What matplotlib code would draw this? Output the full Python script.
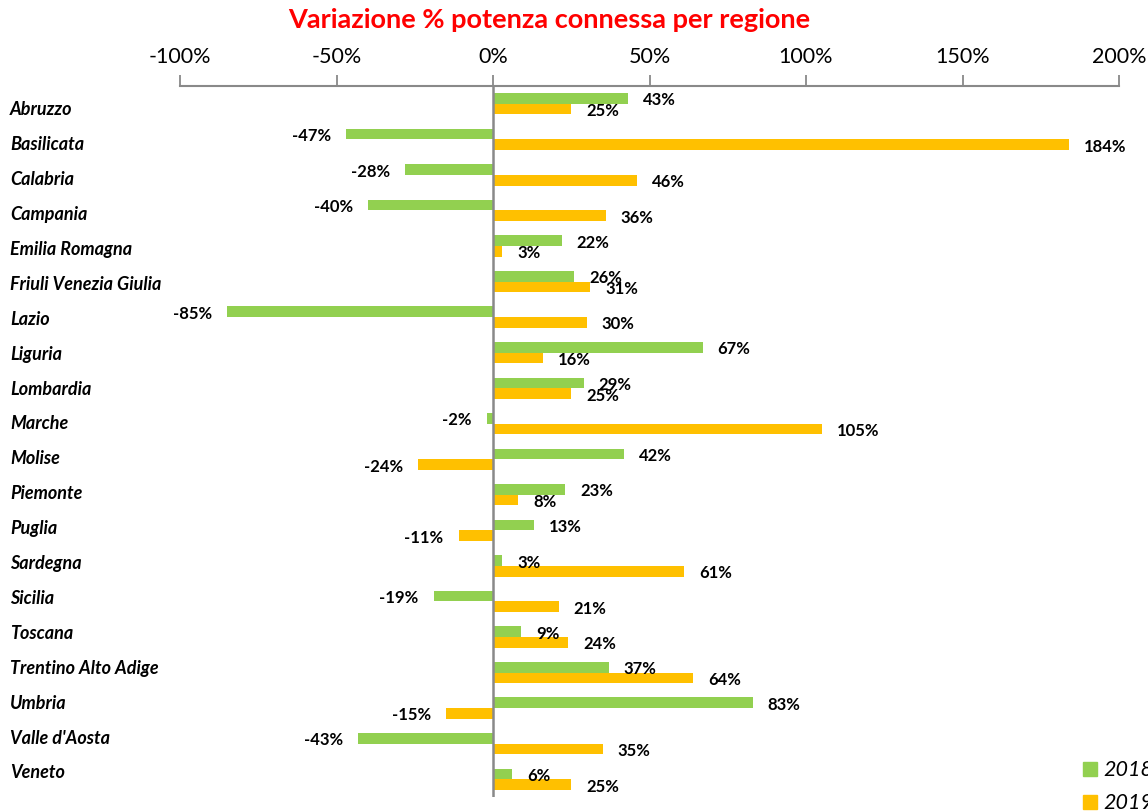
import matplotlib
matplotlib.use("Agg")
import matplotlib.pyplot as plt
from matplotlib.patches import Patch
import numpy as np

plt.rcParams['font.family'] = ['Lato', 'DejaVu Sans']

regions = ["Abruzzo", "Basilicata", "Calabria", "Campania", "Emilia Romagna",
           "Friuli Venezia Giulia", "Lazio", "Liguria", "Lombardia", "Marche",
           "Molise", "Piemonte", "Puglia", "Sardegna", "Sicilia", "Toscana",
           "Trentino Alto Adige", "Umbria", "Valle d'Aosta", "Veneto"]
var_2018 = [43, -47, -28, -40, 22, 26, -85, 67, 29, -2, 42, 23, 13, 3, -19, 9, 37, 83, -43, 6]
var_2019 = [25, 184, 46, 36, 3, 31, 30, 16, 25, 105, -24, 8, -11, 61, 21, 24, 64, -15, 35, 25]
ticks = [-100, -50, 0, 50, 100, 150, 200]
tick_labels = ["-100%", "-50%", "0%", "50%", "100%", "150%", "200%"]
series_names = ["2018", "2019"]

GREEN = "#92D050"
ORANGE = "#FFC000"
GRAY = "#898989"

W, H = 1148, 811
fig = plt.figure(figsize=(W / 100, H / 100), dpi=100)
ax = fig.add_axes([180 / W, 1 - 797 / H, (1119 - 180) / W, (797 - 86) / H])

y = np.arange(len(regions))
bh = 0.30
ax.barh(y - bh / 2, var_2018, height=bh, color=GREEN, edgecolor="none")
ax.barh(y + bh / 2, var_2019, height=bh, color=ORANGE, edgecolor="none")

ax.set_xlim(-100, 200)
ax.set_ylim(len(regions) - 0.5, -0.5)

ax.xaxis.tick_top()
ax.set_xticks(ticks)
ax.set_xticklabels(tick_labels, fontsize=15.5)
ax.tick_params(axis='x', direction='out', length=8, width=1.3, color=GRAY, pad=6)
ax.set_yticks([])
for s in ["left", "right", "bottom"]:
    ax.spines[s].set_visible(False)
ax.spines["top"].set_color(GRAY)
ax.spines["top"].set_linewidth(1.5)
ax.axvline(0, color=GRAY, lw=1.8, zorder=3)

# value labels
for vals, off in ((var_2018, -bh / 2), (var_2019, bh / 2)):
    for i, v in enumerate(vals):
        dx = 15 if v >= 0 else -15
        ax.annotate(f"{v}%", xy=(v, i + off), xytext=(dx, -2),
                    textcoords="offset pixels", ha="left" if v >= 0 else "right",
                    va="center", fontsize=12, fontweight="bold", color="black")

# category labels (slightly tighter spacing than the bar rows, as in the source)
label_step = 34.9 / 35.55
for i, r in enumerate(regions):
    ax.text(-(180 - 10) / (1119 - 180), 0.17 + i * label_step, r,
            transform=ax.get_yaxis_transform(),
            ha="left", va="center", fontsize=13, fontweight="bold", fontstyle="italic")

fig.text(549 / W, 1 - 20 / H, "Variazione % potenza connessa per regione",
         ha="center", va="center", color="red", fontsize=19.5, fontweight="bold")

handles = [Patch(color=GREEN, label=series_names[0]), Patch(color=ORANGE, label=series_names[1])]
leg = fig.legend(handles=handles, loc="upper left", bbox_to_anchor=(1064 / W, 1 - 741 / H),
                 frameon=False, prop={"size": 15.5, "style": "italic"},
                 handlelength=0.62, handleheight=0.62, handletextpad=0.3, labelspacing=0.6)

fig.savefig("out.png", dpi=100)
